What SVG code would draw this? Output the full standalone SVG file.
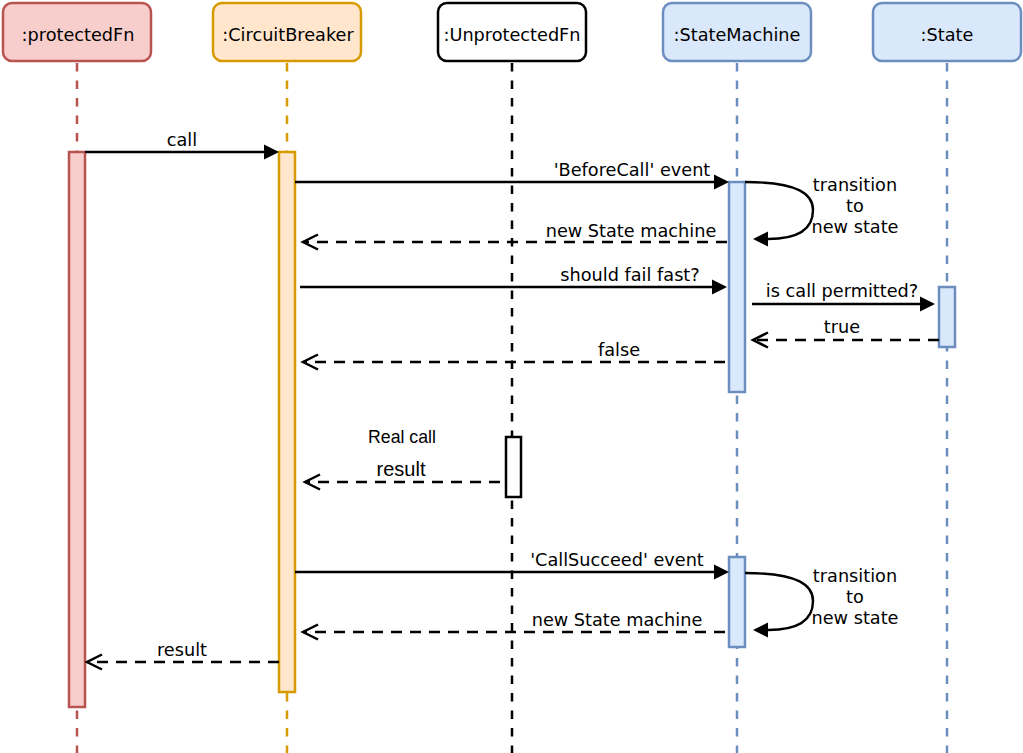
<svg xmlns="http://www.w3.org/2000/svg" width="1023" height="753" viewBox="0 0 1023 753">
  <style>
    .hdr { stroke-width: 2.5; }
    .hdr-text { font-family: "DejaVu Sans", Verdana, sans-serif; font-size: 17.7px; fill: #000; text-anchor: middle; }
    .life { fill: none; stroke-width: 2.5; stroke-dasharray: 8.5 9; }
    .act { stroke-width: 2.5; }
    .red { fill: #f8cecc; stroke: #b85450; }
    .orange { fill: #ffe6cc; stroke: #d79b00; }
    .blue { fill: #dae8fc; stroke: #6c8ebf; }
    .plain { fill: #ffffff; stroke: #000000; }
    .msg { fill: none; stroke: #000; stroke-width: 2.4; }
    .sync { marker-end: url(#solid); }
    .ret { stroke-dasharray: 11 8; marker-end: url(#open); }
    .lbl { font-family: "DejaVu Sans", Verdana, sans-serif; font-size: 17.7px; fill: #000; text-anchor: middle; }
    .lbl-h { font-family: "Liberation Sans", Arial, Helvetica, sans-serif; font-size: 17.7px; fill: #000; text-anchor: middle; }
    .lbl-h.big { font-size: 20px; }
  </style>
  <defs>
    <marker id="solid" markerUnits="userSpaceOnUse" markerWidth="16" markerHeight="16" refX="12" refY="7.5" orient="auto" overflow="visible">
      <path d="M0,0 L15,7.5 L0,15 Z" fill="#000"/>
    </marker>
    <marker id="open" markerUnits="userSpaceOnUse" markerWidth="16" markerHeight="16" refX="15" refY="7.5" orient="auto" overflow="visible">
      <path d="M0,0 L15,7.5 L0,15" fill="none" stroke="#000" stroke-width="2.5"/>
    </marker>
  </defs>

  <rect width="1023" height="753" fill="#ffffff"/>

  <!-- lifelines with headers and activation bars -->
  <g id="protectedFn">
    <line class="life" x1="77" y1="63" x2="77" y2="753" stroke="#b85450"/>
    <rect class="hdr red" x="3" y="3" width="148" height="58" rx="9"/>
    <text class="hdr-text" x="78" y="41">:protectedFn</text>
    <rect class="act red" x="69" y="152" width="16" height="555"/>
  </g>

  <g id="circuitBreaker">
    <line class="life" x1="287" y1="63" x2="287" y2="753" stroke="#d79b00"/>
    <rect class="hdr orange" x="213" y="3" width="148" height="58" rx="9"/>
    <text class="hdr-text" x="288" y="41">:CircuitBreaker</text>
    <rect class="act orange" x="279" y="152" width="16" height="540"/>
  </g>

  <g id="unprotectedFn">
    <line class="life" x1="512" y1="63" x2="512" y2="753" stroke="#000000"/>
    <rect class="hdr plain" x="438" y="3" width="148" height="58" rx="9"/>
    <text class="hdr-text" x="512" y="41">:UnprotectedFn</text>
    <rect class="act plain" x="506" y="437" width="15" height="60"/>
  </g>

  <g id="stateMachine">
    <line class="life" x1="737" y1="63" x2="737" y2="753" stroke="#6c8ebf"/>
    <rect class="hdr blue" x="663" y="3" width="148" height="58" rx="9"/>
    <text class="hdr-text" x="737" y="41">:StateMachine</text>
    <rect class="act blue" x="729" y="182" width="16" height="210"/>
    <rect class="act blue" x="729" y="557" width="16" height="90"/>
  </g>

  <g id="state">
    <line class="life" x1="947" y1="63" x2="947" y2="753" stroke="#6c8ebf"/>
    <rect class="hdr blue" x="873" y="3" width="148" height="58" rx="9"/>
    <text class="hdr-text" x="947" y="41">:State</text>
    <rect class="act blue" x="939" y="287" width="16" height="60"/>
  </g>

  <!-- messages -->
  <g id="connectors">
    <path class="msg sync" d="M85,152 H276"/>
    <path class="msg sync" d="M295,182 H726"/>
    <path class="msg ret" d="M727,242 H303"/>
    <path class="msg sync" d="M300,287 H724"/>
    <path class="msg ret" d="M725,362 H303"/>
    <path class="msg sync" d="M745,182 C800,182 813,195 813,210 C813,228 800,239 768,239 L756,239"/>
    <path class="msg sync" d="M752,304 H932"/>
    <path class="msg ret" d="M939,340 H753"/>
    <path class="msg ret" d="M500,482 H305"/>
    <path class="msg sync" d="M295,572 H726"/>
    <path class="msg sync" d="M745,573 C800,573 813,586 813,601 C813,619 800,630 768,630 L756,630"/>
    <path class="msg ret" d="M725,632 H303"/>
    <path class="msg ret" d="M279,662 H87"/>
  </g>

  <g id="labels">
    <text class="lbl" x="182" y="146">call</text>
    <text class="lbl" x="632" y="176">'BeforeCall' event</text>
    <text class="lbl" x="631" y="237">new State machine</text>
    <text class="lbl" x="630" y="281">should fail fast?</text>
    <text class="lbl" x="619" y="356">false</text>
    <text class="lbl" x="855" y="191">transition</text>
    <text class="lbl" x="855" y="212">to</text>
    <text class="lbl" x="855" y="233">new state</text>
    <text class="lbl" x="842" y="297">is call permitted?</text>
    <text class="lbl" x="842" y="333">true</text>
    <text class="lbl-h" x="402" y="443">Real call</text>
    <text class="lbl-h big" x="401" y="476">result</text>
    <text class="lbl" x="617" y="566">'CallSucceed' event</text>
    <text class="lbl" x="855" y="582">transition</text>
    <text class="lbl" x="855" y="603">to</text>
    <text class="lbl" x="855" y="624">new state</text>
    <text class="lbl" x="617" y="626">new State machine</text>
    <text class="lbl" x="182" y="656">result</text>
  </g>
</svg>
